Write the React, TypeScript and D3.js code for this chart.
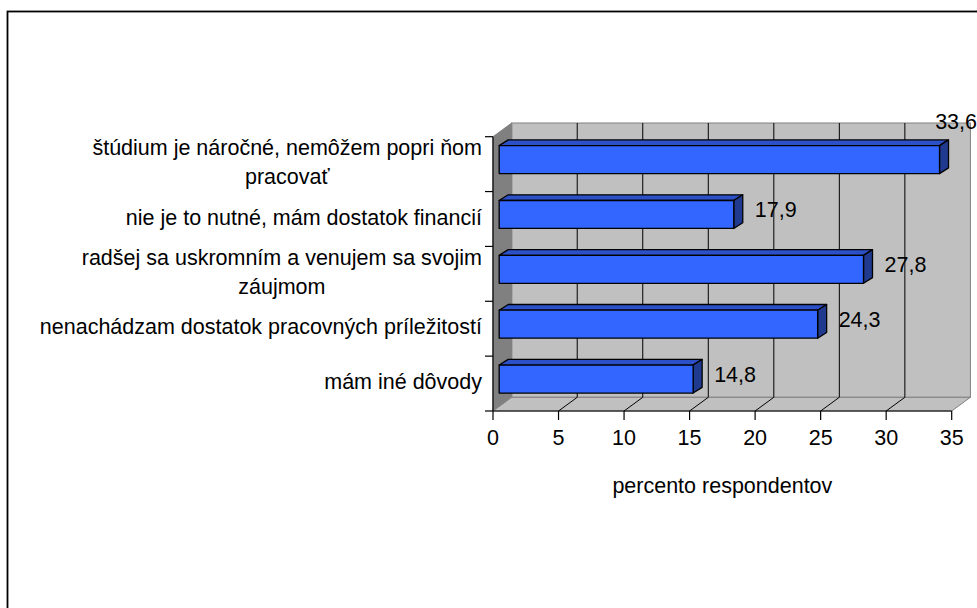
import React, { useEffect, useRef } from 'react';
import * as d3 from 'd3';

// chart data, top bar first
const categories = [
  'štúdium je náročné, nemôžem popri ňom\npracovať',
  'nie je to nutné, mám dostatok financií',
  'radšej sa uskromním a venujem sa svojim\nzáujmom',
  'nenachádzam dostatok pracovných príležitostí',
  'mám iné dôvody',
];
const values = [33.6, 17.9, 27.8, 24.3, 14.8];
const xTicks = [0, 5, 10, 15, 20, 25, 30, 35];
const xTitle = 'percento respondentov';

const W = 977;
const H = 608;
const FONT = '"Liberation Sans", Arial, sans-serif';
const FS = 21.5;

/**
 * 3D-ish horizontal bar chart in the old Excel look.
 */
export default function App() {
  const svgRef = useRef<SVGSVGElement>(null);

  useEffect(() => {
    const svg = d3.select(svgRef.current);
    svg.selectAll('*').remove();

    const fmt = d3.formatLocale({
      decimal: ',', thousands: ' ', grouping: [3], currency: ['', ''],
    }).format('.1f');

    // front plane scales
    const x = d3.scaleLinear().domain([0, 35]).range([493, 951.7]);
    const y = d3.scaleBand().domain(categories).range([136.7, 411]);
    const [x0, x1] = x.range();
    const [y0, y1] = y.range();

    // wall depth offset and bar placement inside it
    const dx = 18.7;
    const dy = -13.7;
    const f1 = 0.33;
    const bdx = 9;
    const bdy = -5.7;
    const barH = y.bandwidth() * 0.51;

    const pts = (p: number[][]) => p.map((d) => d.join(',')).join(' ');

    // outer frame
    svg.append('rect')
      .attr('x', 7.5).attr('y', 11.5)
      .attr('width', W + 40).attr('height', H + 40)
      .attr('fill', 'white')
      .attr('stroke', 'black').attr('stroke-width', 1.8);

    // back wall
    svg.append('rect')
      .attr('x', x0 + dx).attr('y', y0 + dy)
      .attr('width', x1 - x0).attr('height', y1 - y0)
      .attr('fill', '#c0c0c0')
      .attr('stroke', '#808080');

    // left side wall
    svg.append('polygon')
      .attr('points', pts([[x0, y0], [x0 + dx, y0 + dy], [x0 + dx, y1 + dy], [x0, y1]]))
      .attr('fill', '#808080')
      .attr('stroke', '#808080');

    // floor
    svg.append('polygon')
      .attr('points', pts([[x0, y1], [x1, y1], [x1 + dx, y1 + dy], [x0 + dx, y1 + dy]]))
      .attr('fill', '#c0c0c0')
      .attr('stroke', '#808080');

    // gridlines on wall and floor
    const inner = xTicks.filter((t) => t > 0 && t < 35);
    svg.append('g').selectAll('line')
      .data(inner)
      .join('line')
      .attr('x1', (d) => x(d) + dx).attr('x2', (d) => x(d) + dx)
      .attr('y1', y0 + dy).attr('y2', y1 + dy)
      .attr('stroke', 'black');
    svg.append('g').selectAll('line')
      .data(inner)
      .join('line')
      .attr('x1', (d) => x(d)).attr('x2', (d) => x(d) + dx)
      .attr('y1', y1).attr('y2', y1 + dy)
      .attr('stroke', 'black');

    // bars
    const bars = svg.append('g')
      .selectAll('g')
      .data(values)
      .join('g')
      .attr('stroke', 'black')
      .attr('stroke-width', 1.3)
      .attr('stroke-linejoin', 'round');

    const fx = (v: number) => x(v) + f1 * dx;
    const fy = (i: number) => (y(categories[i]) as number) + y.bandwidth() / 2 + f1 * dy - barH / 2;

    bars.append('polygon')
      .attr('points', (d, i) => pts([
        [fx(0), fy(i)], [fx(0) + bdx, fy(i) + bdy],
        [fx(d) + bdx, fy(i) + bdy], [fx(d), fy(i)],
      ]))
      .attr('fill', '#2b50c8');
    bars.append('polygon')
      .attr('points', (d, i) => pts([
        [fx(d), fy(i)], [fx(d) + bdx, fy(i) + bdy],
        [fx(d) + bdx, fy(i) + bdy + barH], [fx(d), fy(i) + barH],
      ]))
      .attr('fill', '#1f3a8f');
    bars.append('rect')
      .attr('x', fx(0))
      .attr('y', (d, i) => fy(i))
      .attr('width', (d) => fx(d) - fx(0))
      .attr('height', barH)
      .attr('fill', '#3366ff');

    // value labels
    const labels = svg.append('g')
      .attr('font-family', FONT)
      .attr('font-size', FS)
      .attr('fill', 'black')
      .selectAll('text')
      .data(values)
      .join('text')
      .text((d) => fmt(d))
      .attr('dy', '0.35em');
    labels.each(function (d, i) {
      const t = this as SVGTextElement;
      const w = t.getComputedTextLength();
      let lx = fx(d) + bdx + 12;
      let ly = fy(i) + barH / 2 - 5;
      if (lx + w > W) {
        lx = W - w;
        ly = fy(i) + bdy - 18;
      }
      d3.select(t).attr('x', lx).attr('y', ly);
    });

    // axes
    const axis = svg.append('g').attr('stroke', 'black').attr('stroke-width', 1.2);
    axis.append('line')
      .attr('x1', x0).attr('x2', x0).attr('y1', y0).attr('y2', y1);
    axis.append('line')
      .attr('x1', x0).attr('x2', x1).attr('y1', y1).attr('y2', y1);
    const yEdges = categories.map((c) => y(c) as number).concat([y1]);
    axis.selectAll('.ytick')
      .data(yEdges)
      .join('line')
      .attr('x1', x0 - 8).attr('x2', x0)
      .attr('y1', (d) => d).attr('y2', (d) => d);
    axis.selectAll('.xtick')
      .data(xTicks)
      .join('line')
      .attr('x1', (d) => x(d)).attr('x2', (d) => x(d))
      .attr('y1', y1).attr('y2', y1 + 9);

    svg.append('g')
      .attr('font-family', FONT)
      .attr('font-size', FS)
      .attr('text-anchor', 'middle')
      .selectAll('text')
      .data(xTicks)
      .join('text')
      .attr('x', (d) => x(d))
      .attr('y', 437.5)
      .attr('dy', '0.35em')
      .text((d) => d);

    svg.append('text')
      .attr('font-family', FONT)
      .attr('font-size', FS)
      .attr('text-anchor', 'middle')
      .attr('x', (x0 + x1) / 2)
      .attr('y', 493)
      .text(xTitle);

    // category labels: block right aligned at the axis, lines centred in it
    const lineGap = 28.5;
    const catG = svg.append('g')
      .attr('font-family', FONT)
      .attr('font-size', FS)
      .attr('text-anchor', 'middle');
    categories.forEach((c) => {
      const lines = c.split('\n');
      const cy = (y(c) as number) + y.bandwidth() / 2 - 2;
      const texts = lines.map((ln, k) => catG.append('text')
        .attr('y', cy + (k - (lines.length - 1) / 2) * lineGap)
        .attr('dy', '0.35em')
        .text(ln));
      const bw = d3.max(texts, (t) => (t.node() as SVGTextElement).getComputedTextLength()) || 0;
      texts.forEach((t) => t.attr('x', 482 - bw / 2));
    });
  }, []);

  return (
    <svg
      ref={svgRef}
      width={W}
      height={H}
      style={{ position: 'absolute', left: 0, top: 0, background: 'white' }}
    />
  );
}
